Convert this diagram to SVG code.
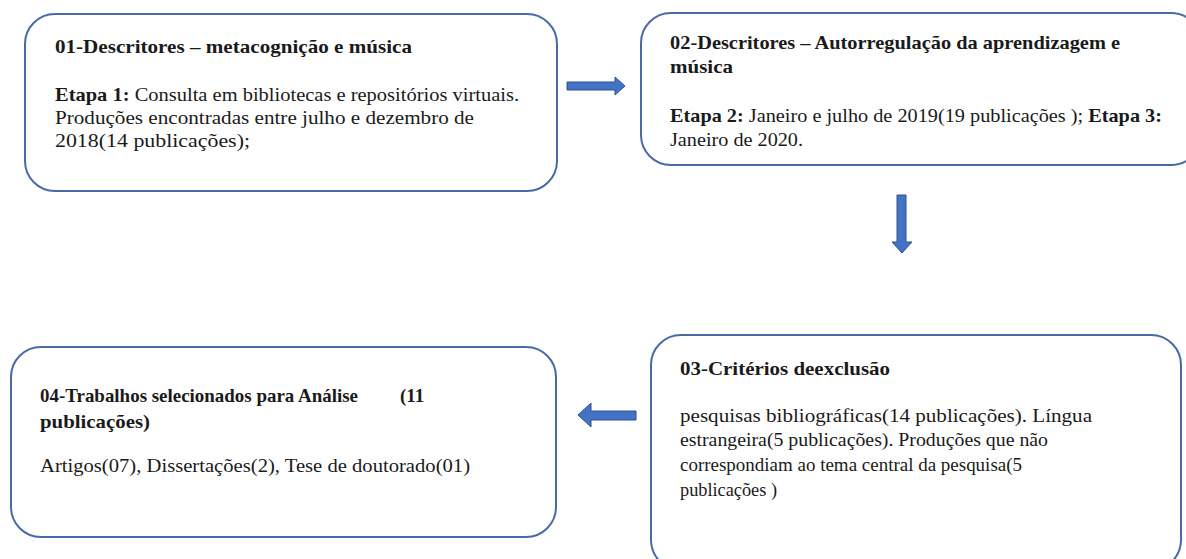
<svg xmlns="http://www.w3.org/2000/svg" width="1186" height="559" viewBox="0 0 1186 559">
<style>
.box{fill:#ffffff;stroke:#4a6aa5;stroke-width:2}
.t{font-family:"Liberation Serif","Times New Roman",serif;font-size:19px;fill:#1a1a1a}
.b{font-weight:bold}
.arrow{fill:#4472c4;stroke:#2f528f;stroke-width:1}
</style>
<rect width="1186" height="559" fill="#ffffff"/>
<g id="node1">
<rect class="box" x="25" y="14" width="532" height="177" rx="30"/>
<text class="t b" x="55" y="53" textLength="357" lengthAdjust="spacingAndGlyphs">01-Descritores – metacognição e música</text>
<text class="t" x="55" y="101" textLength="464" lengthAdjust="spacingAndGlyphs"><tspan class="b">Etapa 1:</tspan> Consulta em bibliotecas e repositórios virtuais.</text>
<text class="t" x="55" y="124" textLength="419" lengthAdjust="spacingAndGlyphs">Produções encontradas entre julho e dezembro de</text>
<text class="t" x="55" y="147" textLength="195" lengthAdjust="spacingAndGlyphs">2018(14 publicações);</text>
</g>
<g id="node2">
<rect class="box" x="641" y="13" width="560" height="152" rx="30"/>
<text class="t b" x="670" y="49" textLength="450" lengthAdjust="spacingAndGlyphs">02-Descritores – Autorregulação da aprendizagem e</text>
<text class="t b" x="670" y="73" textLength="63" lengthAdjust="spacingAndGlyphs">música</text>
<text class="t" x="670" y="122" textLength="492" lengthAdjust="spacingAndGlyphs"><tspan class="b">Etapa 2:</tspan> Janeiro e julho de 2019(19 publicações ); <tspan class="b">Etapa 3:</tspan></text>
<text class="t" x="670" y="146" textLength="133" lengthAdjust="spacingAndGlyphs">Janeiro de 2020.</text>
</g>
<g id="node3">
<rect class="box" x="651" y="335" width="530" height="235" rx="30"/>
<text class="t b" x="680" y="375" textLength="210" lengthAdjust="spacingAndGlyphs">03-Critérios deexclusão</text>
<text class="t" x="680" y="422" textLength="412" lengthAdjust="spacingAndGlyphs">pesquisas bibliográficas(14 publicações). Língua</text>
<text class="t" x="680" y="446" textLength="368" lengthAdjust="spacingAndGlyphs">estrangeira(5 publicações). Produções que não</text>
<text class="t" x="680" y="471" textLength="342" lengthAdjust="spacingAndGlyphs">correspondiam ao tema central da pesquisa(5</text>
<text class="t" x="680" y="496" textLength="97" lengthAdjust="spacingAndGlyphs">publicações )</text>
</g>
<g id="node4">
<rect class="box" x="11" y="347" width="545" height="190" rx="30"/>
<text class="t b" x="40" y="402"><tspan textLength="318" lengthAdjust="spacingAndGlyphs">04-Trabalhos selecionados para Análise</tspan><tspan x="400">(11</tspan></text>
<text class="t b" x="40" y="428" textLength="110" lengthAdjust="spacingAndGlyphs">publicações)</text>
<text class="t" x="40" y="472" textLength="430" lengthAdjust="spacingAndGlyphs">Artigos(07), Dissertações(2), Tese de doutorado(01)</text>
</g>
<g id="connectors">
<polygon class="arrow" points="567,82 615,82 615,77 625,86 615,95 615,90 567,90"/>
<polygon class="arrow" points="897,195 906,195 906,242 912,242 902,253 892,242 897,242"/>
<polygon class="arrow" points="636,411 591,411 591,403 578,415 591,427 591,420 636,420"/>
</g>
</svg>
